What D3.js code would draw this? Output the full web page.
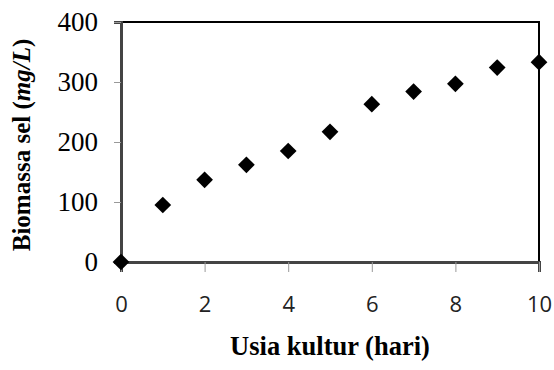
<!DOCTYPE html>
<html>
<head>
<meta charset="utf-8">
<script src="https://cdn.jsdelivr.net/npm/d3@7"></script>
<style>
  html, body { margin: 0; padding: 0; background: #fff; }
  svg { display: block; }
</style>
</head>
<body>
<svg id="chart" width="554" height="370"></svg>
<script>
// Culture age (days) and cell biomass (mg/L)
const days = [0, 1, 2, 3, 4, 5, 6, 7, 8, 9, 10];
const biomass = [0, 95, 137, 162, 185, 217, 263, 284, 297, 324, 333];
const xTicks = [0, 2, 4, 6, 8, 10];
const yTicks = [0, 100, 200, 300, 400];

const svg = d3.select("#chart");
const plotLeft = 121, plotRight = 539, plotTop = 22, plotBottom = 262;

const x = d3.scaleLinear().domain([0, 10]).range([plotLeft, plotRight]);
const y = d3.scaleLinear().domain([0, 400]).range([plotBottom, plotTop]);

// Top and right frame
svg.append("path")
  .attr("d", `M${x(0)},${y(400)}H${x(10)}V${y(0)}`)
  .attr("fill", "none").attr("stroke", "#000").attr("stroke-width", 2);

// Y axis
const yAxis = svg.append("g")
  .attr("transform", `translate(${plotLeft},0)`)
  .call(d3.axisLeft(y).tickValues(yTicks).tickSize(7).tickPadding(16).tickFormat(d3.format("d")));
yAxis.select(".domain").attr("stroke", "#444").attr("stroke-width", 3);
yAxis.selectAll(".tick line").attr("stroke", "#999").attr("stroke-width", 1);
yAxis.selectAll(".tick text")
  .attr("font-family", "'Liberation Serif', 'Times New Roman', serif")
  .attr("font-size", 27).attr("fill", "#000");

// X axis
const xAxis = svg.append("g")
  .attr("transform", `translate(0,${plotBottom})`)
  .call(d3.axisBottom(x).tickValues(xTicks).tickSize(10).tickFormat(d3.format("d")));
xAxis.select(".domain").attr("stroke", "#444").attr("stroke-width", 3);
xAxis.selectAll(".tick line").attr("stroke", "#999").attr("stroke-width", 1);
xAxis.selectAll(".tick text")
  .attr("y", 50).attr("dy", 0)
  .attr("font-family", "'Open Sans', 'Liberation Sans', sans-serif")
  .attr("font-size", 22).attr("fill", "#222");

// Data markers (diamonds)
const diamond = d3.symbol().type(d3.symbolSquare).size(140);
svg.append("g").selectAll("path")
  .data(days.map((d, i) => ({ d, v: biomass[i] })))
  .join("path")
  .attr("d", diamond)
  .attr("transform", p => `translate(${x(p.d)},${y(p.v)}) rotate(45)`)
  .attr("fill", "#000");

// Axis titles
svg.append("text")
  .attr("x", 330).attr("y", 355)
  .attr("text-anchor", "middle")
  .attr("font-family", "'Liberation Serif', 'Times New Roman', serif")
  .attr("font-weight", "bold").attr("font-size", 26.5)
  .text("Usia kultur (hari)");

const yt = svg.append("text")
  .attr("transform", `translate(30,145) rotate(-90)`)
  .attr("text-anchor", "middle")
  .attr("font-family", "'Liberation Serif', 'Times New Roman', serif")
  .attr("font-weight", "bold").attr("font-size", 25);
yt.append("tspan").text("Biomassa sel (");
yt.append("tspan").attr("font-style", "italic").text("mg/L");
yt.append("tspan").text(")");
</script>
</body>
</html>
